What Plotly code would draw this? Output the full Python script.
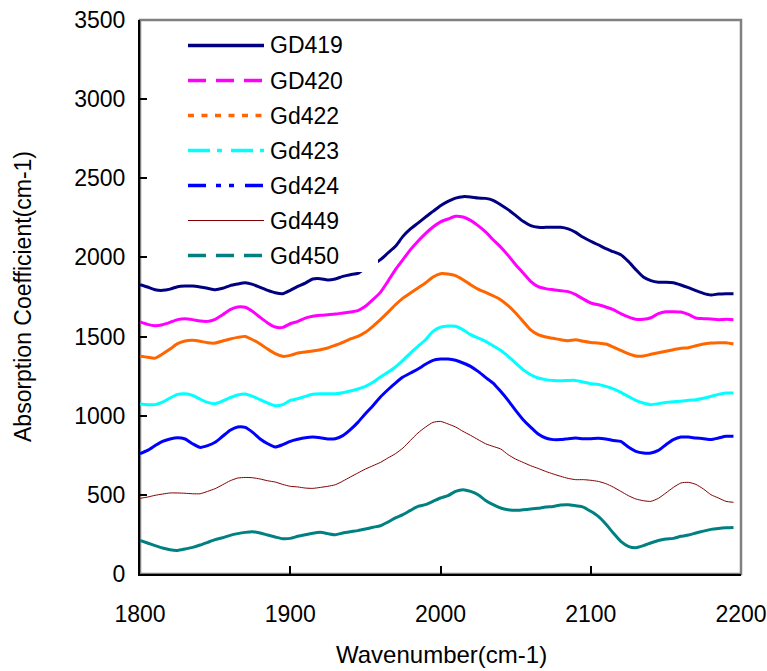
import plotly.graph_objects as go

# Wavenumber grid (cm-1)
wavenumber = list(range(1800, 2200, 5))

gd419 = [1828, 1813, 1796, 1792, 1800, 1815, 1819, 1819, 1813, 1805, 1796, 1805, 1822, 1832, 1840, 1830, 1811, 1792, 1777, 1771, 1792,
         1817, 1838, 1864, 1866, 1857, 1864, 1880, 1891, 1899, 1933, 1954, 1986, 2028, 2070, 2133, 2180, 2217, 2255, 2291, 2327,
         2354, 2375, 2384, 2382, 2375, 2373, 2361, 2333, 2302, 2266, 2228, 2201, 2190, 2190, 2190, 2190, 2180, 2158, 2127, 2102,
         2080, 2055, 2036, 2017, 1975, 1923, 1876, 1853, 1843, 1843, 1840, 1826, 1809, 1790, 1773, 1763, 1769, 1771, 1771]
gd420 = [1592, 1577, 1569, 1575, 1590, 1607, 1613, 1607, 1598, 1596, 1609, 1638, 1670, 1687, 1685, 1659, 1621, 1586, 1560, 1558, 1581,
         1596, 1617, 1628, 1634, 1638, 1642, 1649, 1655, 1664, 1691, 1733, 1779, 1849, 1923, 1986, 2049, 2102, 2150, 2192, 2225,
         2243, 2260, 2255, 2234, 2201, 2161, 2112, 2066, 2013, 1954, 1902, 1849, 1815, 1803, 1796, 1790, 1784, 1765, 1737, 1712,
         1701, 1687, 1670, 1645, 1624, 1609, 1609, 1619, 1645, 1657, 1657, 1655, 1640, 1617, 1613, 1611, 1607, 1609, 1607]
gd422 = [1375, 1369, 1364, 1390, 1421, 1455, 1472, 1476, 1470, 1461, 1459, 1472, 1485, 1495, 1501, 1480, 1453, 1421, 1392, 1375, 1381,
         1396, 1402, 1409, 1417, 1428, 1445, 1463, 1485, 1501, 1527, 1565, 1607, 1653, 1701, 1743, 1775, 1807, 1838, 1876, 1897,
         1895, 1885, 1859, 1828, 1800, 1779, 1758, 1733, 1695, 1649, 1596, 1543, 1512, 1497, 1489, 1480, 1474, 1480, 1470, 1463,
         1459, 1453, 1434, 1413, 1392, 1377, 1377, 1388, 1398, 1407, 1417, 1426, 1430, 1442, 1453, 1459, 1461, 1461, 1453]
gd423 = [1074, 1070, 1070, 1086, 1112, 1135, 1139, 1129, 1105, 1084, 1076, 1093, 1114, 1131, 1137, 1122, 1101, 1080, 1063, 1070, 1097,
         1108, 1122, 1135, 1139, 1139, 1139, 1145, 1156, 1169, 1185, 1211, 1244, 1274, 1308, 1350, 1396, 1438, 1480, 1533, 1560,
         1567, 1565, 1543, 1512, 1491, 1470, 1442, 1413, 1375, 1333, 1291, 1259, 1238, 1228, 1223, 1221, 1223, 1223, 1213, 1202,
         1198, 1185, 1169, 1148, 1122, 1097, 1080, 1070, 1076, 1084, 1088, 1091, 1097, 1101, 1110, 1122, 1135, 1143, 1143]
gd424 = [760, 781, 811, 838, 853, 861, 853, 823, 800, 811, 832, 870, 908, 929, 926, 895, 853, 823, 802, 817, 838,
         851, 861, 865, 861, 853, 855, 874, 912, 958, 1013, 1063, 1118, 1164, 1206, 1244, 1270, 1295, 1325, 1350, 1358,
         1358, 1350, 1333, 1312, 1280, 1242, 1206, 1154, 1097, 1034, 975, 928, 884, 859, 849, 849, 855, 859, 855, 855,
         857, 853, 844, 838, 802, 775, 764, 764, 781, 817, 849, 865, 865, 859, 855, 849, 859, 870, 870]
gd449 = [478, 486, 497, 505, 512, 512, 510, 507, 507, 522, 539, 564, 589, 606, 610, 608, 600, 589, 581, 566, 554,
         550, 543, 541, 547, 554, 564, 587, 613, 638, 663, 684, 705, 733, 760, 796, 844, 891, 928, 958, 964,
         948, 929, 901, 876, 849, 823, 806, 790, 754, 726, 705, 684, 667, 648, 632, 617, 604, 596, 596, 592,
         585, 571, 549, 522, 495, 474, 463, 459, 478, 512, 547, 575, 579, 566, 537, 501, 480, 459, 453]
gd450 = [212, 196, 179, 164, 153, 149, 158, 168, 183, 200, 217, 229, 244, 255, 263, 267, 259, 246, 234, 223, 225,
         238, 248, 257, 263, 255, 248, 259, 267, 274, 284, 295, 305, 328, 354, 375, 402, 427, 438, 459, 480,
         495, 522, 533, 522, 501, 465, 438, 417, 406, 402, 406, 410, 415, 423, 427, 436, 438, 431, 423, 396,
         364, 316, 259, 206, 175, 166, 179, 196, 212, 221, 225, 238, 246, 259, 271, 282, 288, 292, 294]

names = ["GD419", "GD420", "Gd422", "Gd423", "Gd424", "Gd449", "Gd450"]
series = [gd419, gd420, gd422, gd423, gd424, gd449, gd450]
colors = ["#000080", "#FF00FF", "#FF6600", "#00FFFF", "#0000FF", "#800000", "#008080"]
widths = [3, 3, 3, 3, 3, 1, 3]
legend_dash = ["solid", "18px,10px", "6px,7.5px", "22px,7px,5px,9px",
               "18px,10px,5px,8px,5px,11px", "solid", "18px,10px"]

x_title = "Wavenumber(cm-1)"
y_title = "Absorption Coefficient(cm-1)"

FONT = "Liberation Sans, Arial, sans-serif"
W, H = 767, 671
L, R, T, B = 140, 26, 20, 97
PW, PH = W - L - R, H - T - B


def px(x):
    """Pixel column -> paper x."""
    return (x - L) / PW


def py(y):
    """Pixel row -> paper y."""
    return (H - B - y) / PH


fig = go.Figure()
for name, ys, c, w in zip(names, series, colors, widths):
    fig.add_trace(go.Scatter(
        x=wavenumber, y=ys, name=name, mode="lines",
        line=dict(color=c, width=w, shape="spline", smoothing=0.6),
        showlegend=False, hoverinfo="x+y+name"))

shapes = [
    # plot-area frame (grey on top and right)
    dict(type="rect", xref="paper", yref="paper", x0=0, x1=1, y0=0, y1=1,
         line=dict(color="#808080", width=2.5), layer="below"),
    # legend background
    dict(type="rect", xref="paper", yref="paper", x0=px(180), x1=px(378),
         y0=py(272), y1=py(25), fillcolor="white", line=dict(width=0), layer="above"),
]
annotations = []
for i, (name, c, w, d) in enumerate(zip(names, colors, widths, legend_dash)):
    yy = 45.5 + 35 * i
    shapes.append(dict(type="line", xref="paper", yref="paper",
                       x0=px(188), x1=px(264), y0=py(yy), y1=py(yy),
                       line=dict(color=c, width=w + 0.5 if w > 1 else 1.2, dash=d), layer="above"))
    annotations.append(dict(xref="paper", yref="paper", x=px(268), y=py(yy),
                            text=name, showarrow=False, xanchor="left", yanchor="middle",
                            font=dict(family=FONT, size=23, color="black")))

# axis titles
annotations.append(dict(xref="paper", yref="paper", x=px(441), y=py(654),
                        text=x_title, showarrow=False, xanchor="center", yanchor="middle",
                        font=dict(family=FONT, size=24, color="black")))
annotations.append(dict(xref="paper", yref="paper", x=px(23), y=py(297),
                        text=y_title, showarrow=False, textangle=-90,
                        xanchor="center", yanchor="middle",
                        font=dict(family=FONT, size=23, color="black")))

fig.update_layout(
    width=W, height=H,
    margin=dict(l=L, r=R, t=T, b=B, pad=0, autoexpand=False),
    paper_bgcolor="white", plot_bgcolor="white",
    font=dict(family=FONT, size=23, color="black"),
    shapes=shapes, annotations=annotations,
    showlegend=False,
)
fig.update_xaxes(
    range=[1800, 2200], dtick=100, tick0=1800,
    showgrid=False, zeroline=False, automargin=False,
    showline=True, linecolor="black", linewidth=2,
    ticks="inside", ticklen=8, tickwidth=1.5, tickcolor="black",
    ticklabelstandoff=18,
    tickfont=dict(family=FONT, size=23, color="black"),
)
fig.update_yaxes(
    range=[0, 3500], dtick=500, tick0=0,
    showgrid=False, zeroline=False, automargin=False,
    showline=True, linecolor="black", linewidth=2,
    ticks="inside", ticklen=7, tickwidth=1.5, tickcolor="black",
    ticklabelstandoff=8,
    tickfont=dict(family=FONT, size=23, color="black"),
)

fig.write_html("out.html")
